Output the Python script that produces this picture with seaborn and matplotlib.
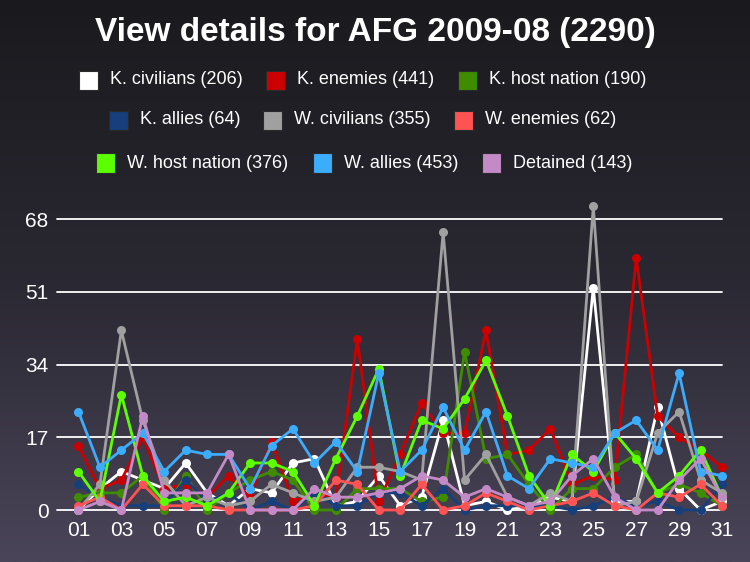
import numpy as np
import pandas as pd
import seaborn as sns
import matplotlib.pyplot as plt
from matplotlib import font_manager
from matplotlib.patches import Rectangle
from matplotlib.colors import LinearSegmentedColormap

days = list(range(1, 32))
day_labels = ['%02d' % d for d in range(1, 32, 2)]

k_civilians = [0, 5, 9, 7, 5, 11, 4, 1, 5, 4, 11, 12, 1, 2, 8, 1, 3, 21, 1, 2, 0, 1, 3, 2, 52, 2, 2, 24, 5, 0, 2]
k_enemies = [15, 5, 7, 17, 5, 6, 3, 8, 3, 16, 2, 4, 3, 40, 2, 13, 25, 18, 18, 42, 13, 14, 19, 6, 8, 7, 59, 22, 17, 14, 10]
k_host_nation = [3, 4, 4, 8, 0, 8, 0, 4, 7, 9, 7, 0, 0, 5, 5, 5, 2, 3, 37, 12, 13, 6, 0, 5, 5, 10, 13, 4, 6, 4, 1]
k_allies = [6, 3, 1, 1, 1, 7, 2, 4, 0, 2, 0, 4, 1, 1, 4, 4, 1, 5, 0, 1, 1, 1, 1, 0, 1, 3, 1, 2, 0, 0, 6]
w_civilians = [0, 6, 42, 21, 7, 1, 3, 1, 2, 6, 4, 2, 3, 10, 10, 9, 7, 65, 7, 13, 3, 1, 4, 2, 71, 1, 2, 18, 23, 7, 4]
w_enemies = [1, 3, 0, 6, 1, 1, 1, 0, 0, 0, 0, 1, 7, 6, 0, 0, 6, 0, 1, 4, 2, 0, 1, 2, 4, 1, 0, 4, 3, 6, 1]
w_host_nation = [9, 2, 27, 8, 2, 3, 1, 4, 11, 11, 9, 1, 12, 22, 33, 8, 21, 19, 26, 35, 22, 8, 1, 13, 9, 18, 12, 4, 8, 14, 3]
w_allies = [23, 10, 14, 18, 9, 14, 13, 13, 5, 15, 19, 11, 16, 9, 32, 9, 14, 24, 14, 23, 8, 5, 12, 11, 10, 18, 21, 14, 32, 9, 8]
detained = [0, 2, 0, 22, 4, 4, 4, 13, 0, 0, 0, 5, 3, 3, 4, 5, 8, 7, 3, 5, 3, 1, 2, 8, 12, 3, 0, 0, 7, 12, 3]

names = ['K. civilians', 'K. enemies', 'K. host nation', 'K. allies', 'W. civilians',
         'W. enemies', 'W. host nation', 'W. allies', 'Detained']
values = [k_civilians, k_enemies, k_host_nation, k_allies, w_civilians,
          w_enemies, w_host_nation, w_allies, detained]
colors = ['#ffffff', '#cc0000', '#3f8c00', '#163f7c', '#a0a0a0',
          '#ff5252', '#5cff00', '#3cacfc', '#c48ac8']

labels = ['%s (%d)' % (n, sum(v)) for n, v in zip(names, values)]
total = sum(sum(v) for v in values)

rows = []
for lab, vals in zip(labels, values):
    for d, v in zip(days, vals):
        rows.append({'day': d, 'value': v, 'series': lab})
df = pd.DataFrame(rows)

sns.set_style('ticks')
avail = {f.name for f in font_manager.fontManager.ttflist}
narrow = 'Liberation Sans Narrow' if 'Liberation Sans Narrow' in avail else 'Liberation Sans'
plt.rcParams['font.family'] = ['Liberation Sans', 'DejaVu Sans']

W, H = 750, 562
fig = plt.figure(figsize=(7.5, 5.62), dpi=100)

# background gradient
bg = fig.add_axes([0, 0, 1, 1])
bg.axis('off')
cmap = LinearSegmentedColormap.from_list('bg', ['#1a1a1e', '#2a2832', '#4a4559'])
bg.imshow(np.linspace(0, 1, 256).reshape(-1, 1), aspect='auto', cmap=cmap, extent=[0, 1, 0, 1])

ax = fig.add_axes([57 / W, 1 - 510 / H, (722 - 57) / W, (510 - 219.3) / H])
ax.patch.set_alpha(0)
for y in [0, 17, 34, 51, 68]:
    ax.axhline(y, color='white', lw=1.3, zorder=0, clip_on=False)

sns.lineplot(data=df, x='day', y='value', hue='series', hue_order=labels,
             palette=colors, marker='o', markersize=6.5, markeredgewidth=0,
             linewidth=2, estimator=None, legend=False, ax=ax, clip_on=False)

ax.set_xlim(0, 31)
ax.set_ylim(0, 68)
ax.set_xticks(range(1, 32, 2))
ax.set_xticklabels(day_labels, fontfamily=narrow)
ax.set_yticks([0, 17, 34, 51, 68])
ax.set_yticklabels(['0', '17', '34', '51', '68'], fontfamily=narrow)
ax.tick_params(colors='white', length=0, labelsize=15)
ax.tick_params(axis='x', pad=8)
ax.tick_params(axis='y', pad=6)
ax.set_xlabel('')
ax.set_ylabel('')
for s in ax.spines.values():
    s.set_visible(False)

fig.text(0.5, 1 - 33 / H, 'View details for AFG 2009-08 (%d)' % total,
         ha='center', va='center', fontsize=24, fontweight='bold', color='white')

# legend rows, centred like the original
leg_pos = [(80, 79), (80, 266), (80, 458),
           (120, 109), (120, 263), (120, 454),
           (163, 96), (163, 313), (163, 482)]
for (py, px), lab, col in zip(leg_pos, labels, colors):
    fig.patches.append(Rectangle((px / W, 1 - (py + 9.5) / H), 19 / W, 19 / H,
                                 transform=fig.transFigure, facecolor=col,
                                 edgecolor='#2a2a2a', lw=0.8))
    fig.text((px + 31) / W, 1 - py / H, lab, ha='left', va='center',
             fontsize=13, color='white', fontfamily=narrow)

fig.savefig('out.png', dpi=100)
